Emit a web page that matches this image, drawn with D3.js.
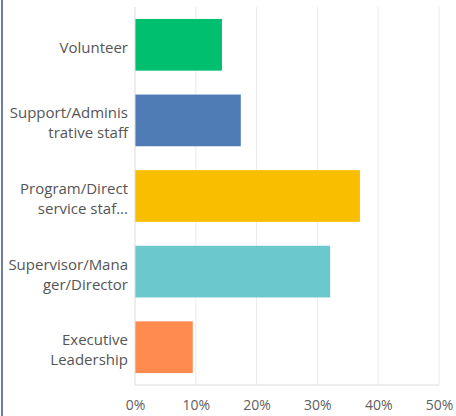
<!DOCTYPE html>
<html>
<head>
<meta charset="utf-8">
<script src="https://cdn.jsdelivr.net/npm/d3@7"></script>
<style>
  html, body { margin: 0; padding: 0; background: #fff; }
  svg { display: block; }
  text { font-family: "Open Sans", "Noto Sans", sans-serif; }
</style>
</head>
<body>
<svg id="chart" width="456" height="416"></svg>
<script>
// Role breakdown of respondents (share of answers)
const categories = [
  ["Volunteer"],
  ["Support/Adminis", "trative staff"],
  ["Program/Direct", "service staf..."],
  ["Supervisor/Mana", "ger/Director"],
  ["Executive", "Leadership"]
];
const values = [14.3, 17.4, 37.0, 32.1, 9.5];
const colors = ["#00bf6f", "#507cb6", "#f9be00", "#6bc8cd", "#ff8b4f"];
const tickValues = [0, 10, 20, 30, 40, 50];

const svg = d3.select("#chart");
const W = 456, H = 416;
const margin = { top: 7, right: 17, bottom: 31, left: 135 };

// Thin frame edge on the left
svg.append("rect").attr("x", 1).attr("y", 0).attr("width", 2).attr("height", H)
  .attr("fill", "#6b80a8");

const x = d3.scaleLinear().domain([0, 50]).range([margin.left, W - margin.right]);
const y = d3.scaleBand().domain(d3.range(categories.length))
  .range([margin.top, H - margin.bottom]).paddingInner(0.316).paddingOuter(0.158);

// Vertical gridlines
svg.append("g").selectAll("line").data(tickValues.slice(1)).join("line")
  .attr("x1", d => x(d)).attr("x2", d => x(d))
  .attr("y1", margin.top).attr("y2", H - margin.bottom)
  .attr("stroke", "#ececec").attr("stroke-width", 1);

// Bars
svg.append("g").selectAll("rect").data(values).join("rect")
  .attr("x", x(0))
  .attr("y", (d, i) => y(i))
  .attr("width", d => x(d) - x(0))
  .attr("height", y.bandwidth())
  .attr("fill", (d, i) => colors[i]);

// Baseline and bottom axis line
svg.append("line").attr("x1", x(0)).attr("x2", x(0))
  .attr("y1", margin.top).attr("y2", H - margin.bottom)
  .attr("stroke", "#dcdcdc");
svg.append("line").attr("x1", x(0)).attr("x2", x(50))
  .attr("y1", H - margin.bottom).attr("y2", H - margin.bottom)
  .attr("stroke", "#dcdcdc");

// X axis tick labels
const xAxis = d3.axisBottom(x).tickValues(tickValues).tickFormat(d => d + "%").tickSize(0).tickPadding(15);
const gx = svg.append("g").attr("transform", `translate(0,${H - margin.bottom})`).call(xAxis);
gx.select(".domain").remove();
gx.selectAll("text").attr("fill", "#606060").style("font-size", "14px")
  .style("font-family", '"Open Sans", "Noto Sans", sans-serif');

// Category labels
const lab = svg.append("g").selectAll("text").data(categories).join("text")
  .attr("text-anchor", "end")
  .attr("x", margin.left - 7)
  .attr("y", (d, i) => y(i) + y.bandwidth() / 2)
  .attr("fill", "#555")
  .style("font-size", "15px");
lab.each(function (lines) {
  const t = d3.select(this);
  const lh = 20;
  const start = -(lines.length - 1) * lh / 2;
  lines.forEach((s, k) => {
    t.append("tspan").attr("x", margin.left - 7).attr("dy", k === 0 ? start + 8 : lh).text(s);
  });
});
</script>
</body>
</html>
